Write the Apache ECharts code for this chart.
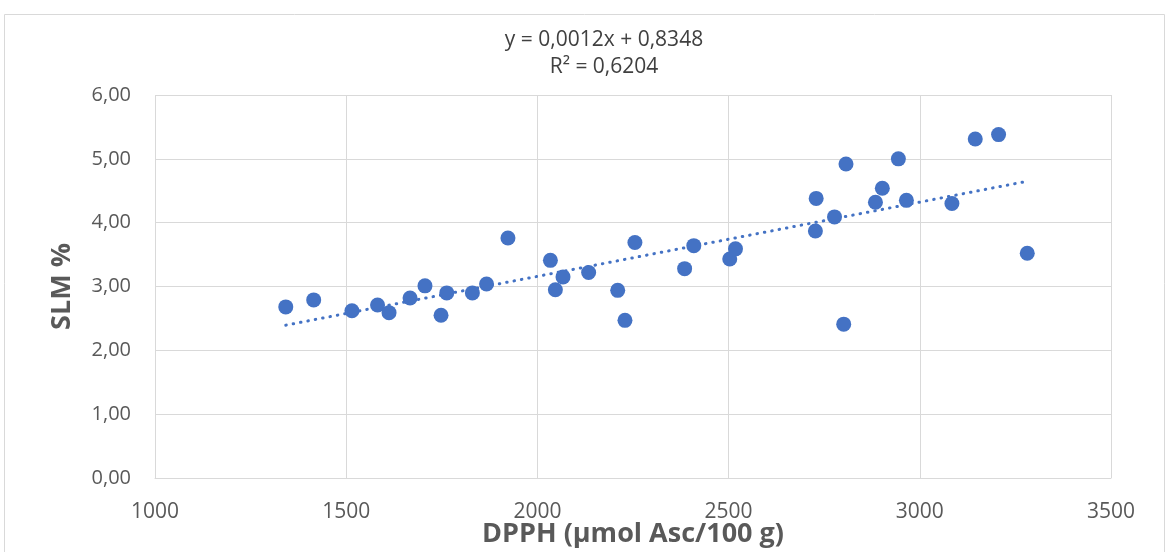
<!DOCTYPE html>
<html><head><meta charset="utf-8">
<script src="https://cdn.jsdelivr.net/npm/echarts@6/dist/echarts.min.js"></script>
<style>html,body{margin:0;padding:0;background:#fff}#c{width:1167px;height:552px}</style>
</head><body><div id="c"></div>
<script>
const dpph = [1342,1415,1515,1582,1612,1667,1706,1748,1763,1830,1867,1923,2034,2047,2067,2134,2210,2229,2255,2385,2409,2503,2518,2727,2729,2777,2801,2807,2884,2902,2944,2965,3084,3145,3206,3281];
const slm  = [2.68,2.79,2.62,2.71,2.59,2.82,3.01,2.55,2.90,2.90,3.04,3.76,3.41,2.95,3.15,3.22,2.94,2.47,3.69,3.28,3.64,3.43,3.59,3.87,4.38,4.09,2.41,4.92,4.32,4.54,5.00,4.35,4.30,5.31,5.38,3.52];
const eqText = ['y = 0,0012x + 0,8348', 'R² = 0,6204'];
const xTitle = 'DPPH (µmol Asc/100 g)';
const yTitle = 'SLM %';

// least squares trendline from the data
const n = dpph.length;
let sx=0, sy=0, sxx=0, sxy=0;
for (let i=0;i<n;i++){sx+=dpph[i];sy+=slm[i];sxx+=dpph[i]*dpph[i];sxy+=dpph[i]*slm[i];}
const b = (n*sxy - sx*sy)/(n*sxx - sx*sx);
const a = (sy - b*sx)/n;
const xmin = Math.min(...dpph), xmax = Math.max(...dpph);
const trend = [[xmin, a+b*xmin],[xmax, a+b*xmax]];

const chart = echarts.init(document.getElementById('c'));
const fmt = v => v.toFixed(2).replace('.', ',');
chart.setOption({
  animation:false,
  title:{text: eqText.join('\n'), left: 599, top: 22, textAlign:'center',
    textStyle:{fontFamily:'Open Sans', fontSize:21, fontWeight:'normal', color:'#404040', lineHeight:27}},
  graphic:[{type:'rect', shape:{x:4.5,y:14.5,width:1160,height:545}, style:{fill:null, stroke:'#d9d9d9', lineWidth:1}, z:-1}],
  grid:{left:155, right:56, top:95, bottom:74, containLabel:false, outerBoundsMode:'none'},
  xAxis:{type:'value', min:1000, max:3500, interval:500,
    name:xTitle, nameLocation:'middle', nameGap:43, nameMoveOverlap:false,
    nameTextStyle:{fontFamily:'Open Sans', fontSize:27, fontWeight:'bold', color:'#595959'},
    axisLine:{show:true, lineStyle:{color:'#d9d9d9'}}, axisTick:{show:false},
    axisLabel:{fontFamily:'Open Sans', fontSize:21, color:'#595959', margin:24, formatter: v => String(v)},
    splitLine:{show:true, lineStyle:{color:'#d9d9d9', width:1}}},
  yAxis:{type:'value', min:0, max:6, interval:1,
    name:yTitle, nameLocation:'middle', nameGap:79, nameMoveOverlap:false,
    nameTextStyle:{fontFamily:'Open Sans', fontSize:27, fontWeight:'bold', color:'#595959'},
    axisLine:{show:false}, axisTick:{show:false},
    axisLabel:{fontFamily:'Open Sans', fontSize:20, color:'#595959', margin:24, formatter: fmt},
    splitLine:{show:true, lineStyle:{color:'#d9d9d9', width:1}}},
  series:[
    {type:'line', data:trend, symbol:'none', z:3,
      lineStyle:{color:'#4472C4', width:3, type:[0.5,7], cap:'round'}},
    {type:'scatter', data:dpph.map((x,i)=>[x,slm[i]]), symbolSize:15, z:4,
      itemStyle:{color:'#4472C4', opacity:1}}
  ]
});
</script></body></html>
